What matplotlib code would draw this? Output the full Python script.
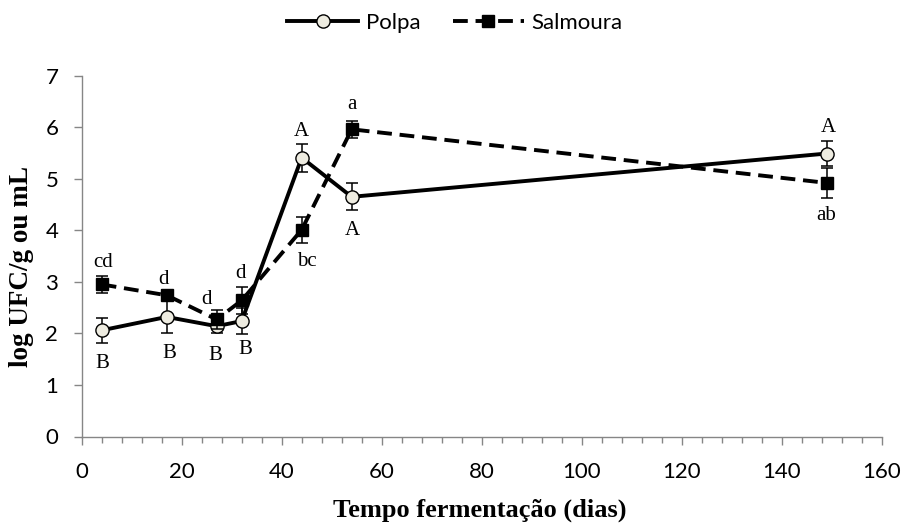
import matplotlib
matplotlib.use("Agg")
import matplotlib.pyplot as plt
from matplotlib.ticker import MultipleLocator

# ---- data ----
days = [4, 17, 27, 32, 44, 54, 149]
polpa = [2.06, 2.32, 2.14, 2.24, 5.41, 4.65, 5.49]
polpa_err = [0.24, 0.32, 0.13, 0.25, 0.27, 0.26, 0.24]
salmoura = [2.95, 2.74, 2.27, 2.64, 4.01, 5.96, 4.92]
salmoura_err = [0.16, 0.10, 0.19, 0.26, 0.25, 0.17, 0.29]
polpa_letters = ["B", "B", "B", "B", "A", "A", "A"]
salmoura_letters = ["cd", "d", "d", "d", "bc", "a", "ab"]
series_names = ["Polpa", "Salmoura"]
x_label = "Tempo fermentação (dias)"
y_label = "log UFC/g ou mL"

# label offsets in pixels (dx, dy down to visual centre)
polpa_off = [(1, 30.7), (2.6, 34), (-1.7, 27), (3.3, 26), (0, -29), (0.7, 31.6), (1.6, -28.3)]
salm_off = [(1.6, -24.3), (-3.4, -17.7), (-10.7, -22.6), (-1.7, -29.3), (5, 29), (0, -26.7), (-1, 30.6)]

W, H = 904, 524
fig = plt.figure(figsize=(W / 100, H / 100), dpi=100)
ax = fig.add_axes([81.7 / W, 1 - 436.5 / H, 800 / W, (436.5 - 75.7) / H])

gray = "#868686"
face = "#EEECE1"

ax.errorbar(days, polpa, yerr=polpa_err, fmt="none", ecolor="black",
            elinewidth=1.1, capsize=4.5, capthick=1.1, zorder=2)
lp, = ax.plot(days, polpa, color="black", lw=2.8, marker="o", ms=9.5,
              mfc=face, mec="black", mew=1.0, zorder=3, label=series_names[0])
ax.errorbar(days, salmoura, yerr=salmoura_err, fmt="none", ecolor="black",
            elinewidth=1.1, capsize=4.5, capthick=1.1, zorder=4)
ls, = ax.plot(days, salmoura, color="black", lw=2.8, ls=(0, (3.8, 2.0)),
              marker="s", ms=8.0, mfc="black", mec="black", zorder=5,
              label=series_names[1])

serif = ["Liberation Serif", "DejaVu Serif"]
lab_size = 15
em_px = lab_size * 100 / 72
for xs, ys, labs, offs in [(days, polpa, polpa_letters, polpa_off),
                           (days, salmoura, salmoura_letters, salm_off)]:
    for xv, yv, t, (dx, dy) in zip(xs, ys, labs, offs):
        ax.annotate(t, (xv, yv), xytext=(dx, -(dy + 0.33 * em_px)),
                    textcoords="offset pixels", ha="center", va="baseline",
                    fontsize=lab_size, family=serif, zorder=6)

ax.set_xlim(0, 160)
ax.set_ylim(0, 7)
ax.xaxis.set_major_locator(MultipleLocator(20))
ax.xaxis.set_minor_locator(MultipleLocator(4))
ax.yaxis.set_major_locator(MultipleLocator(1))

for s in ["top", "right"]:
    ax.spines[s].set_visible(False)
for s in ["left", "bottom"]:
    ax.spines[s].set_color(gray)
    ax.spines[s].set_linewidth(1.0)

sans = ["Lato", "DejaVu Sans"]
ax.tick_params(axis="both", which="major", direction="out", length=5.8,
               width=1.0, color=gray, labelsize=16, labelcolor="black")
ax.tick_params(axis="x", which="minor", direction="out", length=4.3,
               width=1.0, color=gray)
ax.tick_params(axis="x", which="major", pad=12.5)
ax.tick_params(axis="y", which="major", pad=11)
for lab in ax.get_xticklabels() + ax.get_yticklabels():
    lab.set_family(sans)

fig.text(480 / W, 1 - 516.7 / H, x_label, ha="center", va="baseline",
         fontsize=19, fontweight="bold", family=serif)
fig.text(22 / W, 1 - 266.5 / H, y_label, ha="center", va="center",
         rotation=90, fontsize=19.5, fontweight="bold", family=serif)

leg = fig.legend(handles=[lp, ls], loc="center", ncol=2,
                 bbox_to_anchor=(455 / W, 1 - 23 / H), frameon=False,
                 prop={"family": sans, "size": 16}, handlelength=3.2,
                 handletextpad=0.35, columnspacing=1.45, borderaxespad=0,
                 borderpad=0)

fig.savefig("out.png", dpi=100)
